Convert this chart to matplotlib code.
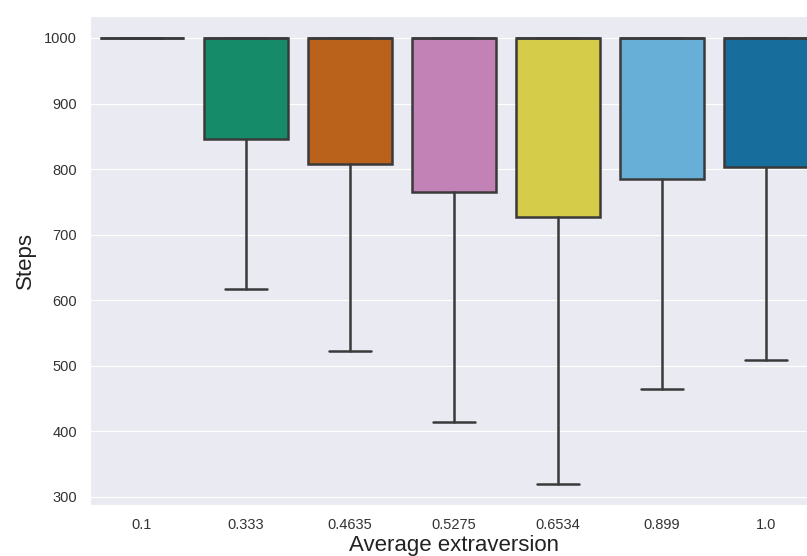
import matplotlib
matplotlib.use("Agg")
import matplotlib.pyplot as plt
import seaborn as sns

sns.set_style("darkgrid")
plt.rcParams['font.family'] = ['Arial', 'Liberation Sans', 'DejaVu Sans']

labels = ["0.1", "0.333", "0.4635", "0.5275", "0.6534", "0.899", "1.0"]
whis_low = [1000, 617, 522, 414, 320, 464, 509]
q1 = [1000, 846, 808, 765, 727, 785, 803]
median = [1000, 1000, 1000, 1000, 1000, 1000, 1000]
q3 = [1000, 1000, 1000, 1000, 1000, 1000, 1000]
whis_high = [1000, 1000, 1000, 1000, 1000, 1000, 1000]
colors = ["#de8f05", "#029e73", "#d55e00", "#cc78bc", "#ece133", "#56b4e9", "#0173b2"]

stats = []
for i, lab in enumerate(labels):
    stats.append(dict(label=lab, whislo=whis_low[i], q1=q1[i], med=median[i],
                      q3=q3[i], whishi=whis_high[i], fliers=[]))

fig = plt.figure(figsize=(8.07, 5.56), dpi=100)
ax = fig.add_axes([90 / 807, 1 - 505 / 556, 728 / 807, 489 / 556])

line = dict(color="#3a3a3a", linewidth=1.8)
bp = ax.bxp(stats, positions=range(len(labels)), widths=0.8, patch_artist=True,
            showfliers=False, boxprops=line, whiskerprops=line, capprops=line,
            medianprops=line)
for patch, c in zip(bp["boxes"], colors):
    patch.set_facecolor(sns.desaturate(c, 0.75))
    patch.set_edgecolor("#3a3a3a")

ax.set_xlim(-0.5, len(labels) - 0.5)
ax.set_ylim(287.5, 1033.5)
ax.set_yticks(range(300, 1001, 100))
ax.tick_params(labelsize=10.5, colors="#333333", pad=6)
ax.set_xlabel("Average extraversion", fontsize=16, color="#222222", labelpad=2)
ax.set_ylabel("Steps", fontsize=16, color="#222222", labelpad=6)
ax.grid(axis="x", visible=False)

fig.savefig("out.png", dpi=100)
